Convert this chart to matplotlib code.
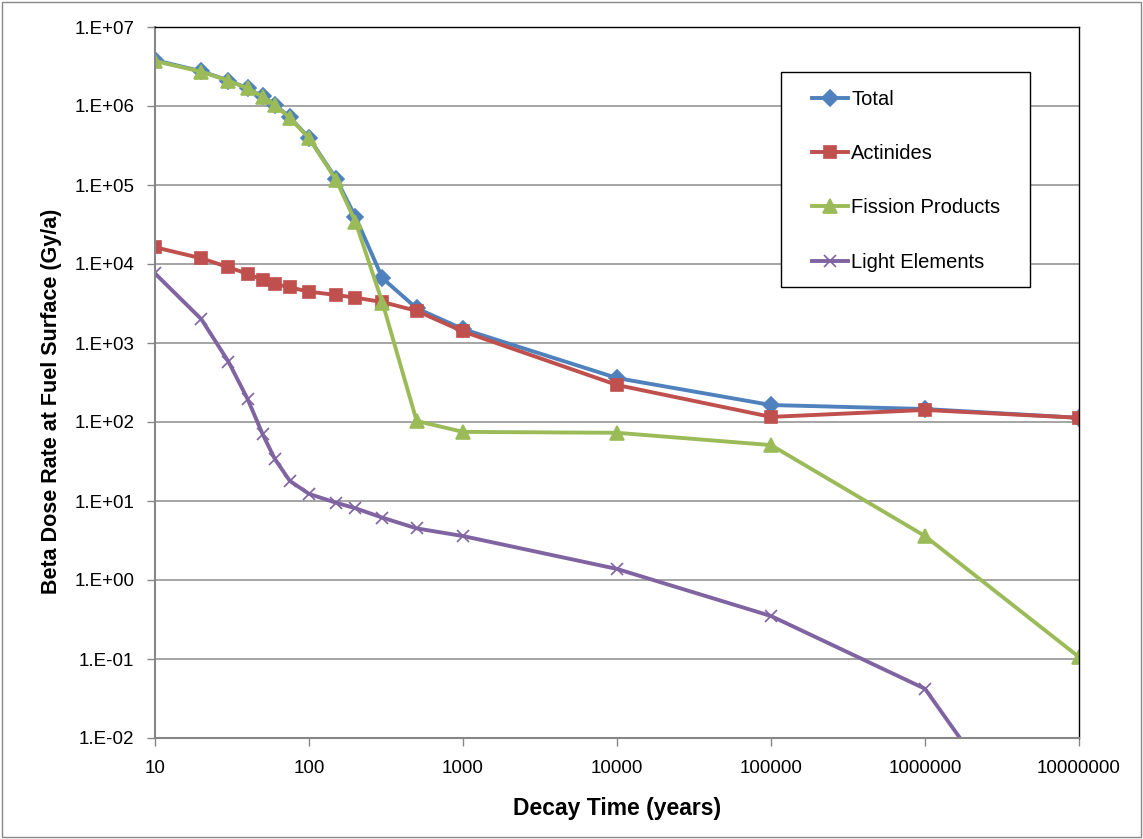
import numpy as np
import matplotlib
matplotlib.use('Agg')
import matplotlib.pyplot as plt
from matplotlib.ticker import FixedLocator, FuncFormatter, NullLocator

plt.rcParams['font.family'] = ['Liberation Sans', 'DejaVu Sans']

# decay time (years)
years = [10, 20, 30, 40, 50, 60, 75, 100, 150, 200, 300, 500,
         1000, 10000, 100000, 1000000, 10000000]

total = [3.8e6, 2.75e6, 2.1e6, 1.68e6, 1.32e6, 1.04e6, 7.2e5, 3.95e5, 1.2e5,
         3.97e4, 6.6e3, 2.75e3, 1.5e3, 360, 164, 146, 113]
actinides = [1.63e4, 1.18e4, 9.1e3, 7.5e3, 6.3e3, 5.6e3, 5.07e3, 4.46e3, 4.06e3,
             3.75e3, 3.3e3, 2.55e3, 1.4e3, 294, 116, 142, 113]
fission = [3.7e6, 2.72e6, 2.09e6, 1.67e6, 1.31e6, 1.03e6, 7.1e5, 3.9e5, 1.16e5,
           3.44e4, 3.24e3, 103, 75, 73, 51, 3.6, 0.106]
light = [7.6e3, 2.0e3, 580, 194, 70, 34, 18, 12.3, 9.5,
         8.1, 6.15, 4.5, 3.6, 1.38, 0.35, 0.042, 7.5e-5]

series = [
    ('Total', total, '#4F81BD', 'D', 8),
    ('Actinides', actinides, '#C0504D', 's', 9),
    ('Fission Products', fission, '#9BBB59', '^', 10),
    ('Light Elements', light, '#8064A2', 'x', 9),
]

W, H = 1143, 839
fig = plt.figure(figsize=(W / 100, H / 100), dpi=100)
L, R, T, B = 155, 1079, 27, 738
ax = fig.add_axes([L / W, 1 - B / H, (R - L) / W, (B - T) / H])

for name, vals, col, mk, ms in series:
    ax.plot(years, vals, color=col, lw=2.8, marker=mk, ms=ms,
            markeredgecolor=col, markerfacecolor=col, mew=1.2, label=name)

ax.set_xscale('log')
ax.set_yscale('log')
ax.set_xlim(10, 1e7)
ax.set_ylim(1e-2, 1e7)

ax.yaxis.set_major_locator(FixedLocator([10.0 ** k for k in range(-2, 8)]))
ax.yaxis.set_minor_locator(NullLocator())
ax.yaxis.set_major_formatter(FuncFormatter(lambda v, p: '1.E%+03d' % round(np.log10(v))))
ax.xaxis.set_major_locator(FixedLocator([10.0 ** k for k in range(1, 8)]))
ax.xaxis.set_minor_locator(NullLocator())
ax.xaxis.set_major_formatter(FuncFormatter(lambda v, p: '%d' % round(v)))

ax.grid(axis='y', color='#8c8c8c', lw=1.1)
ax.set_axisbelow(True)
for side in ['left', 'bottom']:
    ax.spines[side].set_color('#868686')
    ax.spines[side].set_linewidth(1.5)
for side in ['top', 'right']:
    ax.spines[side].set_color('black')
    ax.spines[side].set_linewidth(1.0)
ax.tick_params(axis='both', direction='out', length=6, color='#868686',
               labelsize=13.5, width=1)
ax.tick_params(axis='x', pad=10)
ax.tick_params(axis='y', pad=9)


def px(x, y):
    return ((x - L) / (R - L), (B - y) / (B - T))


ax.set_xlabel('Decay Time (years)', fontsize=16.5, fontweight='bold', labelpad=14)
ax.set_ylabel('Beta Dose Rate at Fuel Surface (Gy/a)', fontsize=15.5,
              fontweight='bold')
ax.yaxis.set_label_coords(*px(62, 401))

# legend (frame drawn separately so the padding can differ per side)
leg = ax.legend(loc='upper left', bbox_to_anchor=px(812, 90), fontsize=14.5,
                frameon=False, borderpad=0, labelspacing=1.75, handlelength=1.8,
                handletextpad=0.15, borderaxespad=0)
x0, y0 = px(781, 287)
x1, y1 = px(1030, 72)
ax.add_patch(plt.Rectangle((x0, y0), x1 - x0, y1 - y0, transform=ax.transAxes,
                           facecolor='white', edgecolor='black', lw=1.0, zorder=4))
leg.set_zorder(5)

fig.patches.append(plt.Rectangle((0.002, 0.002), 0.996, 0.996, transform=fig.transFigure,
                                 fill=False, edgecolor='#888888', lw=1))

fig.savefig('out.png', dpi=100)
